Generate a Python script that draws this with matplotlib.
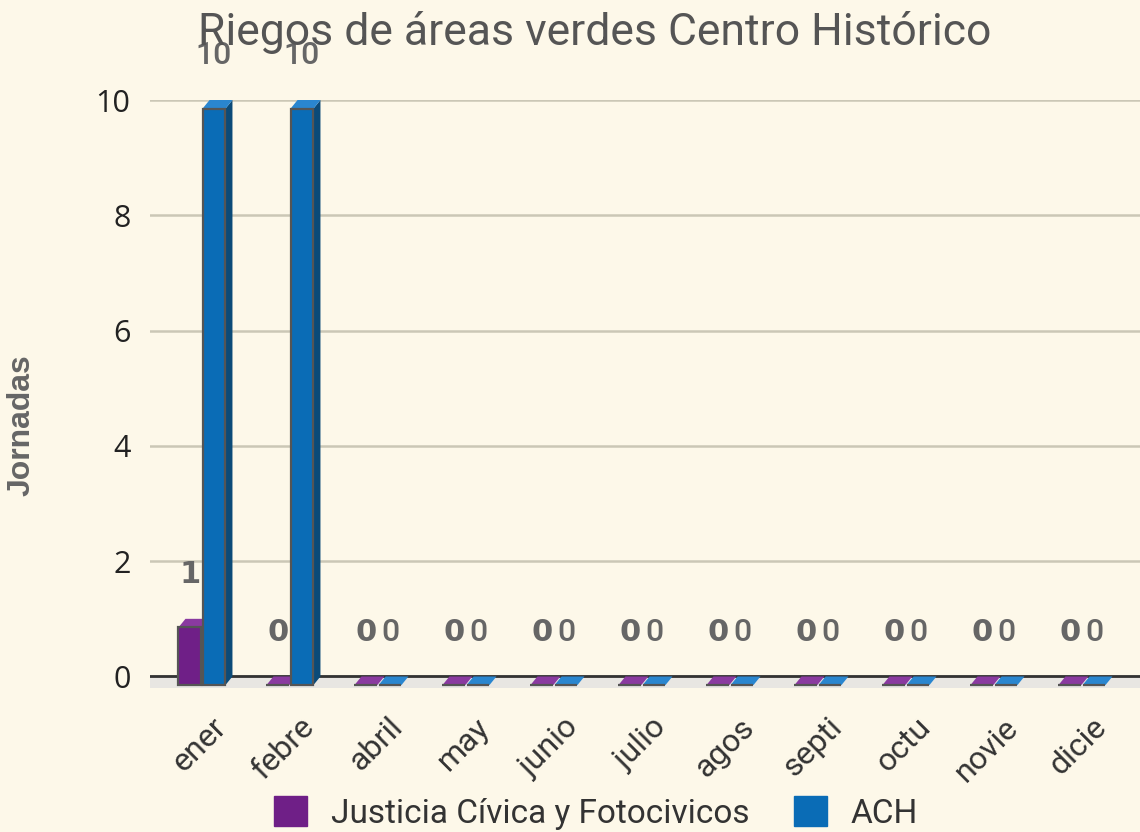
import numpy as np
import matplotlib
matplotlib.use("Agg")
import matplotlib.pyplot as plt
import matplotlib.transforms as mtransforms
from matplotlib.patches import Polygon

# data
months = ['ener', 'febre', 'abril', 'may', 'junio', 'julio',
          'agos', 'septi', 'octu', 'novie', 'dicie']
justicia = [1, 0, 0, 0, 0, 0, 0, 0, 0, 0, 0]
ach = [10, 10, 0, 0, 0, 0, 0, 0, 0, 0, 0]
series_names = ['Justicia Cívica y Fotocivicos', 'ACH']

bg = '#fdf8e9'
purple = '#6f1f87'
purple_side = '#4e135f'
purple_top = '#8a3aa0'
blue = '#0a6cb6'
blue_side = '#0b4a78'
blue_top = '#2a86cf'
edge = '#555555'

plt.rcParams['font.family'] = ['Roboto', 'DejaVu Sans']

fig = plt.figure(figsize=(11.4, 8.32), dpi=100, facecolor=bg)
ax = fig.add_axes([150 / 1140, (832 - 688) / 832, 990 / 1140, 588 / 832])
ax.set_facecolor(bg)

x = np.arange(len(months))
w = 0.26
off = 0.137
dx, dy = 0.08, 0.15   # fake 3d depth


def bar3d(xs, vals, face, side, top):
    ax.bar(xs, vals, width=w, bottom=-dy, color=face, edgecolor=edge,
           linewidth=1.6, zorder=3)
    for xc, v in zip(xs, vals):
        r = xc + w / 2
        l = xc - w / 2
        ax.add_patch(Polygon([(r, -dy), (r + dx, 0), (r + dx, v), (r, v - dy)],
                             closed=True, facecolor=side, edgecolor='none', zorder=2))
        ax.add_patch(Polygon([(l, v - dy), (l + dx, v), (r + dx, v), (r, v - dy)],
                             closed=True, facecolor=top, edgecolor='none', zorder=2))


bar3d(x - off, justicia, purple, purple_side, purple_top)
bar3d(x + off, ach, blue, blue_side, blue_top)

# value labels
for xc, v in zip(x - off, justicia):
    ax.annotate(str(v), (xc, v), xytext=(0, 32), textcoords='offset points',
                ha='center', va='center', fontsize=22, fontweight='bold',
                color='#666666', family=['DejaVu Sans'], annotation_clip=False)
for xc, v in zip(x + off, ach):
    ax.annotate(str(v), (xc, v), xytext=(0, 32), textcoords='offset points',
                ha='center', va='center', fontsize=23, fontweight='medium',
                color='#666666', annotation_clip=False)

# floor and baseline
ax.axhspan(-0.2, 0, color='#e8e6e2', zorder=0)
ax.axhline(0, color='#333333', linewidth=2, zorder=1)

ax.set_xlim(-0.59, 10.66)
ax.set_ylim(-0.2, 10)
ax.set_yticks([0, 2, 4, 6, 8, 10])
ax.yaxis.grid(True, color='#cbc7b6', linewidth=1.8, zorder=0)
ax.set_axisbelow(True)
ax.tick_params(axis='y', length=0, pad=14, labelsize=22, labelcolor='#222222')
for lab in ax.get_yticklabels():
    lab.set_family(['Open Sans', 'DejaVu Sans'])
ax.set_xticks(x)
ax.set_xticklabels(months, rotation=45, ha='right', va='center',
                   rotation_mode='anchor', fontsize=23, color='#333333')
ax.tick_params(axis='x', length=0, pad=25)
shift = mtransforms.ScaledTranslation(0.2, 0, fig.dpi_scale_trans)
for lab in ax.get_xticklabels():
    lab.set_transform(lab.get_transform() + shift)
for s in ax.spines.values():
    s.set_visible(False)

fig.text(595 / 1140, (832 - 32) / 832, 'Riegos de áreas verdes Centro Histórico',
         ha='center', va='center', fontsize=32, color='#555555')
fig.text(22 / 1140, (832 - 425) / 832, 'Jornadas', rotation=90, ha='center',
         va='center', fontsize=23, fontweight='bold', color='#666666',
         family=['Liberation Sans', 'DejaVu Sans'])

handles = [plt.Rectangle((0, 0), 1, 1, color=purple),
           plt.Rectangle((0, 0), 1, 1, color=blue)]
fig.legend(handles, series_names, loc='center', bbox_to_anchor=(596 / 1140, 19 / 832),
           ncol=2, frameon=False, fontsize=24, handlelength=1.0, handleheight=1.0,
           columnspacing=1.35, handletextpad=0.7, labelcolor='#333333')

fig.savefig('out.png', dpi=100, facecolor=bg)
